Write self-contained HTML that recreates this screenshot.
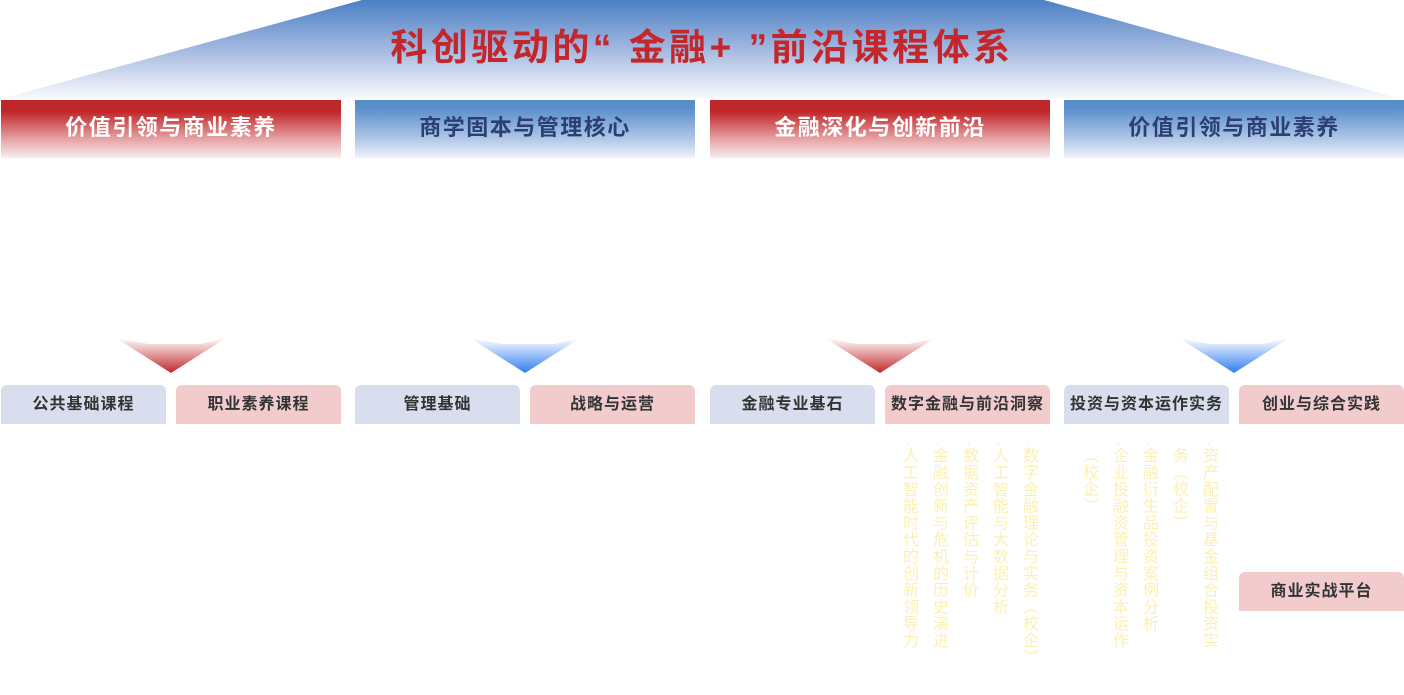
<!DOCTYPE html>
<html><head><meta charset="utf-8"><style>
html,body{margin:0;padding:0;background:#fff;}
body{width:1404px;height:695px;position:relative;overflow:hidden;font-family:"Liberation Sans","Noto Sans CJK SC",sans-serif;}
.abs{position:absolute;}
.hd{position:absolute;top:100px;width:340px;height:58px;line-height:56px;text-align:center;font-size:22px;letter-spacing:1.5px;font-weight:bold;}
.red{background:linear-gradient(#c0272a 0%,#c0272a 20%,#e8a9ab 70%,#f8eeee 100%);color:#fff;}
.blue{background:linear-gradient(#558bc8 0%,#5b8fcb 15%,#b5cbe8 70%,#eef3fb 100%);color:#2c3f73;}
.sb{position:absolute;top:385px;width:165px;height:39px;line-height:39px;text-align:center;font-size:16px;letter-spacing:1px;font-weight:bold;color:#333;border-radius:6px 6px 0 0;}
.sbb{background:#d9deef;}
.sbp{background:#f2cccd;}
.v{position:absolute;top:441px;writing-mode:vertical-rl;font-size:16px;line-height:16px;letter-spacing:0.8px;color:#fbf0b4;white-space:nowrap;}
</style></head><body>
<svg class="abs" style="left:0;top:0" width="1404" height="100">
<defs><linearGradient id="tg" x1="0" y1="0" x2="0" y2="1">
<stop offset="0" stop-color="#4a80c4"/><stop offset="0.5" stop-color="#a3b8e0"/><stop offset="1" stop-color="#f8f9fd"/></linearGradient></defs>
<polygon points="362,0 1044,0 1398,98 4,98" fill="url(#tg)"/>
</svg>
<div class="abs" style="left:0;width:1404px;top:22px;text-align:center;font-size:37px;letter-spacing:3.5px;font-weight:bold;color:#c3272b;line-height:52px;">科创驱动的“ 金融+ ”前沿课程体系</div>

<div class="hd red" style="left:1px">价值引领与商业素养</div>
<div class="hd blue" style="left:355px">商学固本与管理核心</div>
<div class="hd red" style="left:710px">金融深化与创新前沿</div>
<div class="hd blue" style="left:1064px">价值引领与商业素养</div>

<svg class="abs" style="left:0;top:330px" width="1404" height="50">
<defs>
<linearGradient id="ar" x1="0" y1="0" x2="0" y2="1"><stop offset="0" stop-color="#fff"/><stop offset="1" stop-color="#c0272a"/></linearGradient>
<linearGradient id="ab" x1="0" y1="0" x2="0" y2="1"><stop offset="0" stop-color="#fff"/><stop offset="1" stop-color="#2f7df0"/></linearGradient>
</defs>
<polygon points="116,8 148,14 200,14 226,8 171,43" fill="url(#ar)"/>
<polygon points="470,8 502,14 554,14 580,8 525,43" fill="url(#ab)"/>
<polygon points="825,8 857,14 909,14 935,8 880,43" fill="url(#ar)"/>
<polygon points="1179,8 1211,14 1263,14 1289,8 1234,43" fill="url(#ab)"/>
</svg>

<div class="sb sbb" style="left:1px">公共基础课程</div>
<div class="sb sbp" style="left:176px">职业素养课程</div>
<div class="sb sbb" style="left:355px">管理基础</div>
<div class="sb sbp" style="left:530px">战略与运营</div>
<div class="sb sbb" style="left:710px">金融专业基石</div>
<div class="sb sbp" style="left:885px">数字金融与前沿洞察</div>
<div class="sb sbb" style="left:1064px">投资与资本运作实务</div>
<div class="sb sbp" style="left:1239px">创业与综合实践</div>
<div class="sb sbp" style="left:1239px;top:572px">商业实战平台</div>

<div class="v" style="left:900px">·人工智能时代的创新领导力</div>
<div class="v" style="left:930px">·金融创新与危机的历史演进</div>
<div class="v" style="left:960px">·数据资产评估与计价</div>
<div class="v" style="left:990px">·人工智能与大数据分析</div>
<div class="v" style="left:1020px">·数字金融理论与实务（校企）</div>
<div class="v" style="left:1080px;top:447px">（校企）</div>
<div class="v" style="left:1110px">·企业投融资管理与资本运作</div>
<div class="v" style="left:1140px">·金融衍生品投资案例分析</div>
<div class="v" style="left:1170px;top:447px">务（校企）</div>
<div class="v" style="left:1200px">·资产配置与基金组合投资实</div>
</body></html>
